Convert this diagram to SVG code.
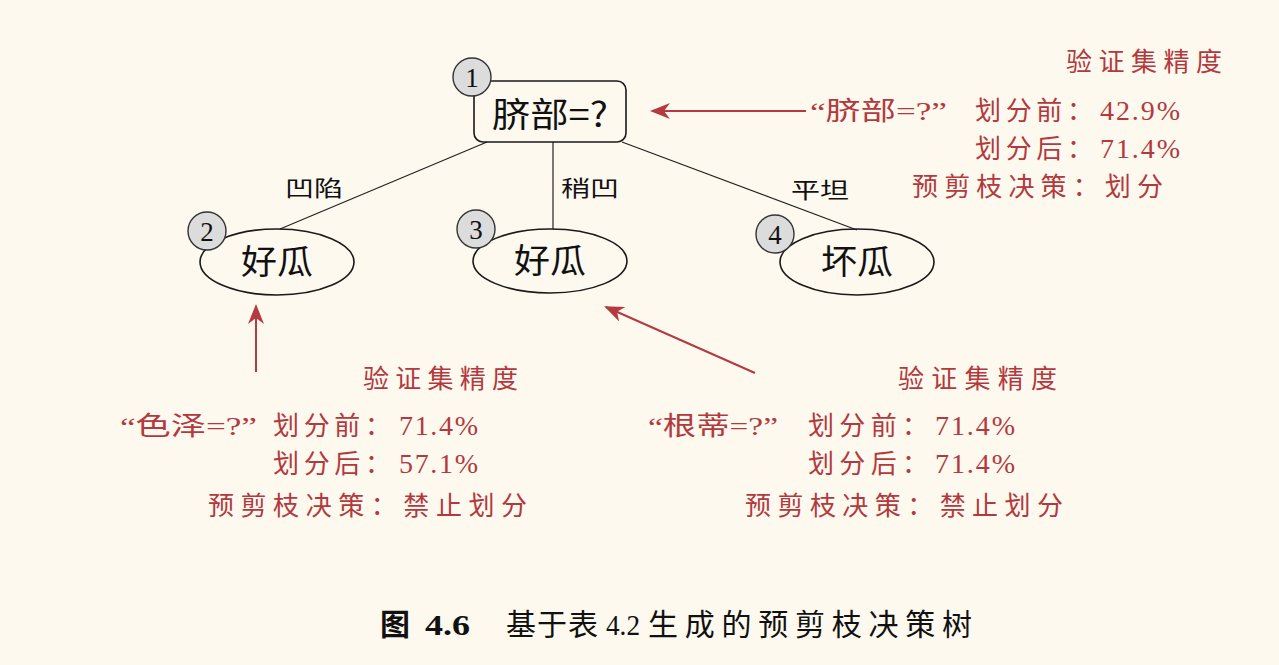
<svg xmlns="http://www.w3.org/2000/svg" width="1279" height="665" viewBox="0 0 1279 665">
<style>
.bg{fill:#fdf9ef}
.node{fill:none;stroke:#1a1a1a;stroke-width:1.6}
.num{fill:#dcdcdc;stroke:#333;stroke-width:1.4}
.numt{font-family:"Liberation Serif","Noto Sans CJK SC",serif;font-size:27px;fill:#111;text-anchor:middle}
.nt{font-family:"Noto Sans CJK SC",sans-serif;font-size:34px;fill:#111;text-anchor:middle}
.el{font-family:"Noto Sans CJK SC",sans-serif;font-size:22px;fill:#111}
.edge{stroke:#222;stroke-width:1.2;fill:none}
.ra{stroke:#b53a3f;stroke-width:2;fill:none}
.rt{font-family:"Liberation Serif","Noto Sans CJK SC",serif;font-size:26px;fill:#b23a3e}
.rd{font-family:"Liberation Serif",serif;font-size:28px;fill:#b23a3e}
.cap{font-family:"Liberation Serif","Noto Sans CJK SC",serif;font-size:30px;fill:#111}
</style>
<defs>
<marker id="ah" markerWidth="10" markerHeight="8" refX="9" refY="4" orient="auto" markerUnits="strokeWidth">
<path d="M0,0 L10,4 L0,8 L3,4 Z" fill="#b53a3f"/>
</marker>
</defs>
<rect class="bg" x="0" y="0" width="1279" height="665"/>
<g id="connectors">
<line class="edge" x1="487" y1="142" x2="280" y2="229"/>
<line class="edge" x1="553" y1="142" x2="553" y2="229"/>
<line class="edge" x1="622" y1="142" x2="857" y2="230"/>
<text class="el" x="285" y="196" textLength="58" lengthAdjust="spacingAndGlyphs">凹陷</text>
<text class="el" x="561" y="196" textLength="58" lengthAdjust="spacingAndGlyphs">稍凹</text>
<text class="el" x="791" y="198" textLength="58" lengthAdjust="spacingAndGlyphs">平坦</text>
<line class="ra" x1="806" y1="111" x2="652" y2="111" marker-end="url(#ah)"/>
<line class="ra" x1="256" y1="372" x2="256" y2="306" marker-end="url(#ah)"/>
<line class="ra" x1="755" y1="373" x2="606" y2="307" marker-end="url(#ah)"/>
</g>
<g id="n1">
<rect class="node" x="474" y="81" width="152" height="61" rx="9" fill="#fdf9ef"/>
<text class="nt" x="550" y="127" textLength="116" lengthAdjust="spacingAndGlyphs">脐部=?</text>
<circle class="num" cx="472" cy="77" r="19"/>
<text class="numt" x="472" y="87">1</text>
</g>
<g id="n2">
<ellipse class="node" cx="277" cy="262" rx="77" ry="33"/>
<text class="nt" x="277" y="274" textLength="72" lengthAdjust="spacingAndGlyphs">好瓜</text>
<circle class="num" cx="207" cy="231" r="19"/>
<text class="numt" x="207" y="241">2</text>
</g>
<g id="n3">
<ellipse class="node" cx="550" cy="261" rx="77" ry="32"/>
<text class="nt" x="550" y="273" textLength="72" lengthAdjust="spacingAndGlyphs">好瓜</text>
<circle class="num" cx="476" cy="229" r="19"/>
<text class="numt" x="476" y="239">3</text>
</g>
<g id="n4">
<ellipse class="node" cx="857" cy="262" rx="77" ry="33"/>
<text class="nt" x="857" y="274" textLength="72" lengthAdjust="spacingAndGlyphs">坏瓜</text>
<circle class="num" cx="775" cy="234" r="19"/>
<text class="numt" x="775" y="244">4</text>
</g>
<g id="note1">
<text class="rt" x="1066" y="71" textLength="156" lengthAdjust="spacing">验证集精度</text>
<text class="rt" x="810" y="120" textLength="137" lengthAdjust="spacingAndGlyphs">“脐部=?”</text>
<text class="rt" x="975" y="120" textLength="118" lengthAdjust="spacing">划分前：</text>
<text class="rd" x="1100" y="120" textLength="80" lengthAdjust="spacing">42.9%</text>
<text class="rt" x="975" y="158" textLength="118" lengthAdjust="spacing">划分后：</text>
<text class="rd" x="1100" y="158" textLength="80" lengthAdjust="spacing">71.4%</text>
<text class="rt" x="912" y="196" textLength="251" lengthAdjust="spacing">预剪枝决策：划分</text>
</g>
<g id="note2">
<text class="rt" x="363" y="388" textLength="155" lengthAdjust="spacing">验证集精度</text>
<text class="rt" x="120" y="435" textLength="137" lengthAdjust="spacingAndGlyphs">“色泽=?”</text>
<text class="rt" x="273" y="435" textLength="118" lengthAdjust="spacing">划分前：</text>
<text class="rd" x="399" y="435" textLength="79" lengthAdjust="spacing">71.4%</text>
<text class="rt" x="273" y="473" textLength="118" lengthAdjust="spacing">划分后：</text>
<text class="rd" x="399" y="473" textLength="79" lengthAdjust="spacing">57.1%</text>
<text class="rt" x="208" y="515" textLength="319" lengthAdjust="spacing">预剪枝决策：禁止划分</text>
</g>
<g id="note3">
<text class="rt" x="898" y="388" textLength="159" lengthAdjust="spacing">验证集精度</text>
<text class="rt" x="648" y="435" textLength="130" lengthAdjust="spacingAndGlyphs">“根蒂=?”</text>
<text class="rt" x="808" y="435" textLength="120" lengthAdjust="spacing">划分前：</text>
<text class="rd" x="935" y="435" textLength="80" lengthAdjust="spacing">71.4%</text>
<text class="rt" x="808" y="473" textLength="120" lengthAdjust="spacing">划分后：</text>
<text class="rd" x="935" y="473" textLength="80" lengthAdjust="spacing">71.4%</text>
<text class="rt" x="745" y="515" textLength="318" lengthAdjust="spacing">预剪枝决策：禁止划分</text>
</g>
<g id="caption">
<text class="cap" x="380" y="635" font-weight="bold">图</text>
<text class="cap" x="425" y="635" font-weight="bold" textLength="45" lengthAdjust="spacingAndGlyphs">4.6</text>
<text class="cap" x="506" y="635" textLength="92" lengthAdjust="spacing">基于表</text>
<text class="cap" x="606" y="635" textLength="34" lengthAdjust="spacingAndGlyphs">4.2</text>
<text class="cap" x="648" y="635" textLength="324" lengthAdjust="spacing">生成的预剪枝决策树</text>
</g>
</svg>
